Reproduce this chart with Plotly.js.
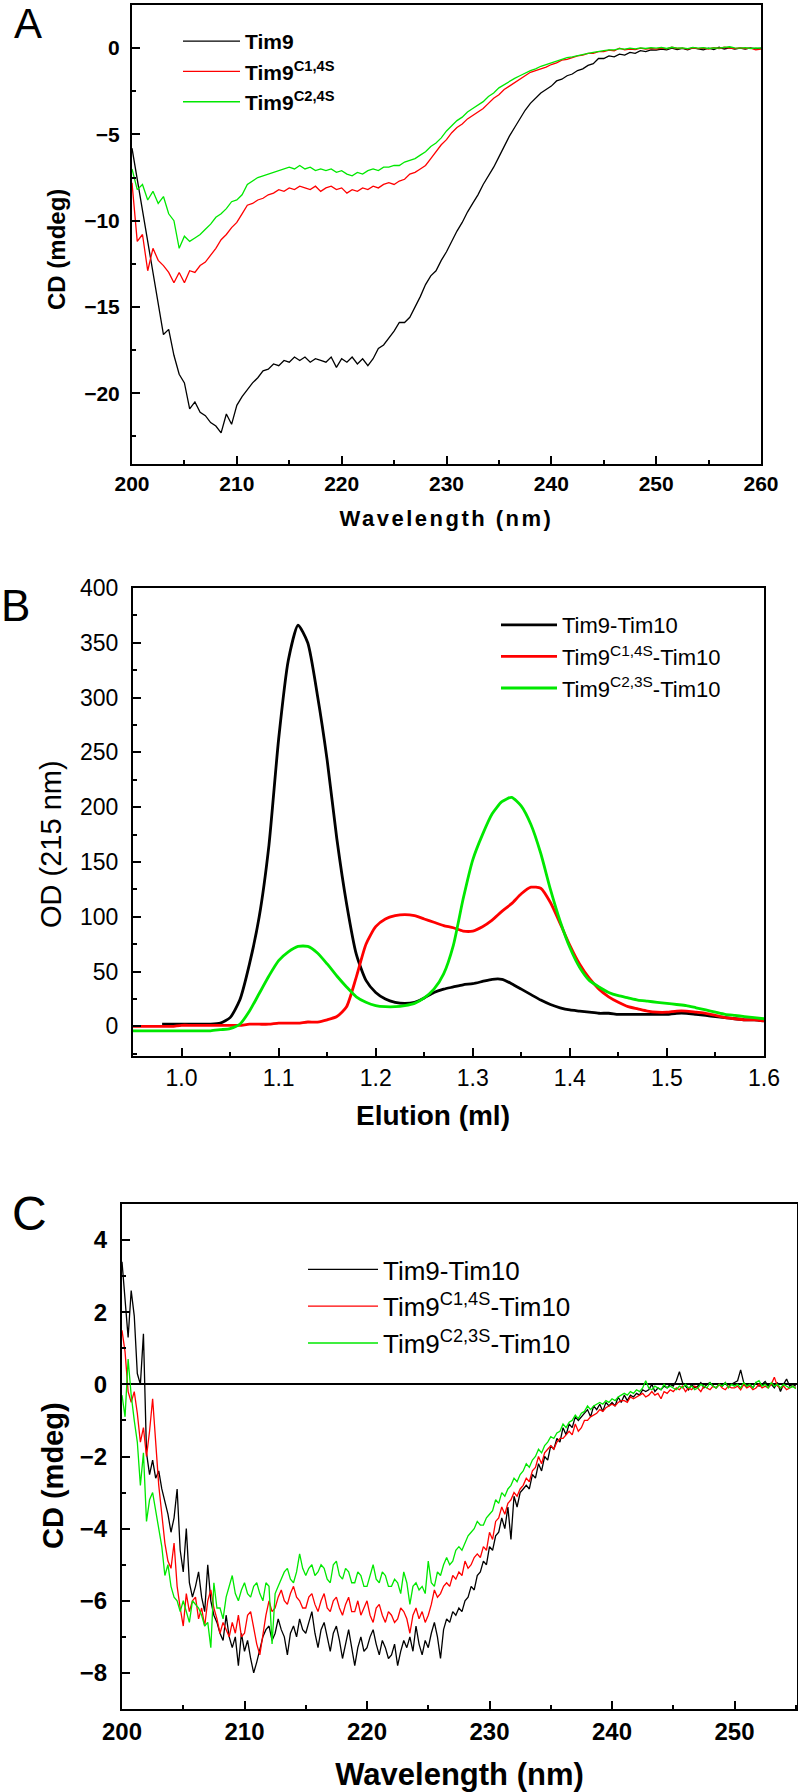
<!DOCTYPE html>
<html>
<head>
<meta charset="utf-8">
<script src="https://cdn.plot.ly/plotly-3.0.1.min.js"></script>
<style>
  html, body { margin: 0; padding: 0; background: #ffffff; }
  #chart { width: 798px; height: 1792px; }
</style>
</head>
<body>
<div id="chart"></div>
<script>
// ---------------- Panel A : CD spectra (x from 200 nm, step 0.5 nm) ----------------
const aStart = 200, aStep = 0.5;
const aTim9 = [
  -5.8, -7.6, -9.4, -11.0, -12.9, -14.8, -16.6, -16.3, -17.8, -18.9,
  -19.4, -20.9, -20.5, -21.1, -21.3, -21.7, -21.9, -22.3, -21.2, -21.8,
  -20.7, -20.2, -19.8, -19.4, -19.1, -18.7, -18.6, -18.3, -18.4, -18.1,
  -18.2, -17.9, -18.1, -17.9, -18.2, -18.0, -18.1, -18.2, -17.9, -18.5,
  -18.0, -18.2, -17.9, -18.3, -18.0, -18.4, -18.0, -17.4, -17.2, -16.8,
  -16.4, -15.9, -15.9, -15.6, -15.0, -14.4, -13.7, -13.2, -12.9, -12.3,
  -11.8, -11.2, -10.6, -10.1, -9.5, -9.0, -8.5, -7.9, -7.4, -6.9,
  -6.3, -5.7, -5.1, -4.6, -4.1, -3.6, -3.2, -2.9, -2.6, -2.4,
  -2.2, -1.9, -1.8, -1.6, -1.5, -1.3, -1.2, -1.0, -0.9, -0.6,
  -0.6, -0.45, -0.5, -0.35, -0.4, -0.25, -0.3, -0.15, -0.2, -0.1,
  -0.12, -0.05, -0.1, 0.0, -0.08, -0.02, -0.1, 0.02, -0.05, -0.1,
  0.0, -0.08, 0.05, -0.05, 0.02, -0.06, 0.0, -0.05, 0.02, -0.04,
  0.0
];
const aC14S = [
  -7.8, -11.2, -10.8, -12.9, -11.6, -12.3, -12.6, -13.0, -13.6, -13.0,
  -13.6, -12.9, -13.0, -12.6, -12.4, -12.0, -11.6, -11.1, -10.8, -10.4,
  -10.1, -9.6, -9.1, -9.0, -8.8, -8.7, -8.5, -8.4, -8.2, -8.3,
  -8.1, -8.2, -8.0, -8.1, -8.2, -8.0, -8.3, -8.1, -8.0, -8.2,
  -8.1, -8.4, -8.2, -8.3, -8.1, -8.2, -8.0, -8.1, -7.9, -7.8,
  -7.9, -7.7, -7.6, -7.3, -7.2, -7.0, -6.8, -6.4, -6.0, -5.6,
  -5.3, -4.9, -4.6, -4.4, -4.1, -3.9, -3.7, -3.5, -3.2, -2.9,
  -2.7, -2.4, -2.2, -2.0, -1.8, -1.6, -1.4, -1.3, -1.2, -1.1,
  -0.95, -0.85, -0.7, -0.65, -0.55, -0.45, -0.4, -0.3, -0.3, -0.2,
  -0.2, -0.12, -0.15, 0.0, -0.1, -0.05, -0.08, 0.0, -0.05, -0.02,
  -0.06, 0.0, -0.04, 0.05, -0.02, 0.0, -0.06, 0.02, -0.03, 0.0,
  -0.05, 0.03, -0.02, 0.05, 0.0, -0.03, 0.02, -0.02, 0.0, -0.1,
  -0.05
];
const aC24S = [
  -7.0, -8.2, -7.9, -8.8, -8.3, -9.0, -8.6, -9.6, -10.0, -11.6,
  -10.9, -11.2, -11.0, -10.8, -10.5, -10.2, -9.8, -9.6, -9.3, -8.9,
  -8.8, -8.5, -7.9, -7.7, -7.5, -7.4, -7.3, -7.2, -7.1, -7.0,
  -6.9, -7.0, -6.8, -7.0, -6.9, -7.1, -7.0, -7.1, -7.0, -7.2,
  -7.1, -7.3, -7.4, -7.2, -7.3, -7.1, -7.0, -7.1, -6.9, -6.9,
  -6.8, -6.8, -6.6, -6.5, -6.4, -6.2, -6.0, -5.7, -5.5, -5.2,
  -4.8, -4.5, -4.2, -4.0, -3.7, -3.5, -3.3, -3.1, -2.8, -2.6,
  -2.3, -2.1, -1.9, -1.75, -1.6, -1.45, -1.3, -1.2, -1.05, -0.95,
  -0.85, -0.75, -0.65, -0.55, -0.5, -0.42, -0.35, -0.3, -0.25, -0.18,
  -0.15, -0.1, -0.1, -0.03, -0.06, 0.0, -0.04, 0.02, -0.02, 0.03,
  0.0, 0.04, -0.02, 0.05, 0.0, 0.02, -0.03, 0.04, 0.0, 0.03,
  -0.02, 0.02, 0.0, 0.05, 0.08, 0.02, 0.0, 0.03, -0.02, 0.02,
  0.0
];
const aNames = ['Tim9', 'Tim9<sup>C1,4S</sup>', 'Tim9<sup>C2,4S</sup>'];

// ---------------- Panel B : elution profiles (x from 0.95 ml, step 0.01 ml) ----------------
const bStart = 0.95, bStep = 0.01;
const bWT = [
  null, null, null, 2, 2, 2, 2, 2, 2, 3,
  8, 24, 57, 100, 165, 262, 334, 366, 350, 302,
  243, 171, 112, 66, 42, 31, 25, 22, 21, 22,
  26, 31, 34, 36, 38, 39, 41, 43, 43, 39,
  34, 29, 24, 20, 17, 15, 14, 13, 12, 12,
  11, 11, 11, 11, 11, 11, 12, 12, 11, 10,
  9, 8, 7, 6, 6, 5
];
const bC14S = [
  0, 0, 0, 0, 0, 1, 1, 1, 1, 1,
  1, 1, 2, 2, 2, 3, 3, 3, 4, 4,
  6, 9, 18, 45, 75, 91, 98, 101, 102, 101,
  98, 95, 92, 90, 87, 87, 91, 97, 105, 112,
  121, 127, 126, 113, 94, 74, 57, 44, 34, 27,
  22, 18, 16, 14, 13, 13, 14, 14, 13, 12,
  10, 8, 7, 6, 6, 5
];
const bC23S = [
  -4, -4, -4, -4, -4, -4, -4, -4, -4, -3,
  -2, 2, 14, 30, 46, 60, 68, 73, 73, 67,
  57, 46, 36, 27, 22, 19, 18, 18, 19, 21,
  26, 34, 48, 74, 116, 152, 175, 194, 205, 209,
  201, 184, 158, 125, 96, 72, 54, 42, 36, 31,
  28, 26, 24, 23, 22, 21, 20, 19, 17, 15,
  13, 11, 10, 9, 8, 7
];
const bNames = ['Tim9-Tim10', 'Tim9<sup>C1,4S</sup>-Tim10', 'Tim9<sup>C2,3S</sup>-Tim10'];

// ---------------- Panel C : CD spectra of complexes (x from 200 nm, step 0.25 nm) ----------------
const cStart = 200, cStep = 0.25;
const cWT = [
  3.4, 2.4, 1.3, 2.6, 1.9, 0.3, 0.0, 1.4, -1.9, -2.5, -2.1, -2.6, -2.4, -2.9, -3.3, -3.6, -4.1, -3.7, -2.9, -4.6,
  -5.2, -4.0, -5.5, -5.9, -5.6, -5.2, -5.9, -6.3, -5.0, -6.0, -6.4, -6.6, -6.9, -7.1, -6.4, -7.0, -7.3, -7.0, -7.8, -6.9,
  -7.4, -7.1, -7.6, -8.0, -7.7, -7.3, -7.0, -6.8, -6.7, -7.1, -6.9, -6.5, -6.8, -7.0, -7.5, -6.9, -6.7, -7.0, -6.5, -6.8,
  -6.9, -6.6, -6.3, -6.9, -7.3, -6.8, -6.6, -7.0, -7.4, -6.9, -6.7, -7.1, -7.6, -7.2, -6.8, -7.3, -7.8, -7.3, -7.0, -7.4,
  -7.3, -7.0, -6.8, -7.2, -7.5, -7.1, -7.3, -7.6, -7.5, -7.2, -7.8, -7.4, -7.1, -7.3, -7.0, -7.4, -6.7, -7.2, -7.5, -7.1,
  -7.3, -6.9, -6.6, -7.0, -7.6, -6.8, -6.5, -6.6, -6.3, -6.4, -6.2, -6.3, -6.0, -5.9, -5.6, -5.7, -5.3, -5.2, -4.9, -5.0,
  -4.5, -4.6, -4.2, -4.1, -3.7, -4.0, -3.4, -4.3, -3.1, -3.4, -3.0, -2.9, -2.8, -2.9, -2.5, -2.6, -2.2, -2.4, -2.0, -2.1,
  -1.7, -1.8, -1.5, -1.6, -1.2, -1.4, -1.1, -1.2, -0.9, -1.0, -0.9, -0.8, -0.7, -0.9, -0.6, -0.7, -0.55, -0.75, -0.5, -0.6,
  -0.5, -0.6, -0.35, -0.5, -0.3, -0.45, -0.3, -0.35, -0.25, -0.3, -0.15, -0.2, -0.15, 0.0, -0.2, -0.1, -0.15, -0.05, -0.1, 0.0,
  -0.05, 0.1, 0.35, 0.05, -0.05, -0.15, 0.0, -0.1, -0.05, 0.05, -0.1, 0.0, 0.05, -0.05, -0.1, 0.0, -0.05, 0.05, -0.08, 0.0,
  0.05, 0.1, 0.4, 0.05, -0.05, 0.0, -0.1, 0.05, -0.05, 0.0, 0.08, -0.05, 0.0, -0.1, 0.05, -0.2, 0.0, 0.15, -0.05, 0.0, -0.05
];
const cC14S = [
  1.5, 0.9, -0.2, -0.5, -0.2, -0.8, -1.6, -1.2, -2.0, -1.3, -0.4, -1.6, -2.8, -3.6, -4.4, -4.9, -5.1, -4.4, -5.6, -6.2,
  -6.7, -5.8, -6.3, -6.0, -5.9, -6.5, -6.2, -6.7, -6.0, -5.7, -6.2, -6.5, -6.9, -6.6, -6.8, -7.0, -6.6, -6.9, -6.4, -7.0,
  -6.9, -6.4, -6.3, -6.8, -7.2, -7.5, -6.9, -6.4, -6.0, -6.3, -6.2, -5.9, -5.7, -6.0, -6.1, -5.8, -5.6, -5.9, -6.0, -6.2,
  -6.2, -5.9, -5.8, -6.1, -6.3, -6.0, -5.8, -6.2, -6.3, -6.0, -5.9, -6.2, -6.4, -6.1, -5.9, -6.3, -6.3, -6.0, -6.4, -6.2,
  -6.0, -6.4, -6.6, -6.2, -6.1, -6.4, -6.6, -6.3, -6.4, -6.6, -6.5, -6.2, -6.3, -6.5, -6.9, -6.4, -6.2, -6.5, -6.3, -6.6,
  -6.4, -6.1, -5.7, -5.9, -5.8, -5.6, -5.5, -5.6, -5.3, -5.4, -5.2, -5.3, -4.9, -5.1, -5.0, -4.8, -4.7, -4.8, -4.5, -4.6,
  -4.1, -4.3, -3.8, -3.7, -3.4, -3.6, -3.3, -3.2, -3.0, -3.1, -2.9, -2.8, -2.6, -2.7, -2.4, -2.3, -2.0, -2.2, -1.9, -1.8,
  -1.7, -1.8, -1.6, -1.5, -1.5, -1.4, -1.3, -1.4, -1.1, -1.3, -1.2, -1.0, -1.0, -0.9, -0.85, -0.8, -0.7, -0.75, -0.65, -0.6,
  -0.55, -0.6, -0.5, -0.45, -0.45, -0.5, -0.35, -0.4, -0.35, -0.3, -0.25, -0.35, -0.3, -0.2, -0.3, -0.25, -0.4, -0.2, -0.25, -0.15,
  -0.2, -0.1, -0.15, -0.05, -0.2, -0.1, -0.15, -0.05, -0.1, -0.2, -0.05, -0.1, -0.15, -0.05, -0.1, 0.0, -0.1, -0.15, -0.05, -0.1,
  -0.1, -0.05, -0.15, 0.0, -0.1, -0.05, -0.15, -0.1, 0.0, -0.1, -0.05, -0.1, 0.0, 0.2, -0.05, -0.1, -0.05, -0.15, -0.1, -0.05, -0.1
];
const cC23S = [
  -0.3, -0.9, 0.7, -0.3, -1.0, -1.6, -2.8, -1.9, -3.8, -3.2, -3.0, -3.5, -4.1, -4.5, -5.3, -5.0, -5.6, -5.9, -6.0, -6.3,
  -6.0, -6.3, -6.6, -6.0, -6.1, -6.2, -6.4, -6.7, -6.6, -7.3, -5.5, -6.2, -6.2, -6.5, -5.9, -5.6, -5.3, -5.8, -6.0, -5.7,
  -5.5, -5.8, -5.9, -5.6, -5.5, -5.8, -6.0, -5.5, -5.6, -7.2, -5.8, -5.6, -5.4, -5.2, -5.1, -5.4, -5.5, -5.2, -4.7, -5.1,
  -5.3, -5.1, -5.0, -5.3, -5.2, -5.0, -5.1, -5.4, -5.5, -5.0, -4.9, -5.3, -5.4, -5.1, -5.2, -5.5, -5.5, -5.2, -5.3, -5.6,
  -5.6, -5.3, -5.0, -5.4, -5.5, -5.2, -5.3, -5.6, -5.6, -5.4, -5.5, -5.8, -5.2, -5.5, -6.1, -5.6, -5.5, -5.7, -5.6, -5.8,
  -4.9, -5.5, -5.6, -5.2, -5.3, -5.0, -4.8, -5.0, -4.9, -4.6, -4.5, -4.6, -4.4, -4.2, -4.1, -4.0, -3.8, -3.9, -3.9, -3.7,
  -3.6, -3.5, -3.2, -3.3, -3.0, -3.1, -2.9, -2.8, -2.6, -2.7, -2.5, -2.4, -2.2, -2.3, -2.1, -2.0, -1.8, -1.9, -1.7, -1.6,
  -1.45, -1.5, -1.35, -1.3, -1.1, -1.2, -1.05, -1.0, -0.85, -0.95, -0.8, -0.75, -0.6, -0.7, -0.6, -0.55, -0.5, -0.55, -0.45, -0.5,
  -0.4, -0.45, -0.35, -0.3, -0.25, -0.3, -0.2, -0.25, -0.15, -0.2, -0.1, 0.1, -0.1, -0.15, -0.05, -0.1, -0.15, 0.0, -0.1, -0.05,
  -0.1, -0.15, -0.05, -0.1, 0.0, -0.1, -0.05, -0.15, -0.1, 0.0, -0.05, -0.1, 0.05, -0.05, -0.1, 0.0, -0.05, 0.05, -0.1, 0.0,
  -0.05, 0.0, -0.1, 0.05, -0.05, 0.0, -0.1, 0.05, 0.1, -0.05, 0.0, -0.1, 0.05, -0.05, 0.0, -0.1, 0.0, -0.05, -0.1, -0.05, -0.12
];
const cNames = ['Tim9-Tim10', 'Tim9<sup>C1,4S</sup>-Tim10', 'Tim9<sup>C2,3S</sup>-Tim10'];

const seriesColors = ['#000000', '#ff0000', '#00e800'];

// ---------------- traces ----------------
const FONT = 'Liberation Sans, Arial, Helvetica, sans-serif';
const traces = [];
[aTim9, aC14S, aC24S].forEach((ys, i) => traces.push({
  type: 'scatter', mode: 'lines', x0: aStart, dx: aStep, y: ys, name: aNames[i],
  xaxis: 'x', yaxis: 'y', legend: 'legend',
  line: { color: seriesColors[i], width: 1.3 }
}));
[bWT, bC14S, bC23S].forEach((ys, i) => traces.push({
  type: 'scatter', mode: 'lines', x0: bStart, dx: bStep, y: ys, name: bNames[i],
  xaxis: 'x2', yaxis: 'y2', legend: 'legend2',
  line: { color: seriesColors[i], width: 2.8, shape: 'spline', smoothing: 0.6 }
}));
[cWT, cC14S, cC23S].forEach((ys, i) => traces.push({
  type: 'scatter', mode: 'lines', x0: cStart, dx: cStep, y: ys, name: cNames[i],
  xaxis: 'x3', yaxis: 'y3', legend: 'legend3',
  line: { color: seriesColors[i], width: 1.3 }
}));

function axis(opts) {
  return Object.assign({
    showline: true, linecolor: '#000', linewidth: 2, mirror: true,
    showgrid: false, zeroline: false,
    ticks: 'inside', ticklen: 8, tickwidth: 2, tickcolor: '#000',
    fixedrange: true
  }, opts);
}
const minorTicks = (d) => ({ dtick: d, ticklen: 4, tickwidth: 2, ticks: 'inside', tickcolor: '#000' });
const px = (v) => v / 798;          // horizontal pixel -> paper
const py = (v) => 1 - v / 1792;     // vertical pixel (from top) -> paper

function label(text, x, y, size, opts) {
  return Object.assign({
    text: text, xref: 'paper', yref: 'paper', x: px(x), y: py(y),
    xanchor: 'center', yanchor: 'middle', showarrow: false,
    font: { size: size, family: FONT, color: '#000' }
  }, opts || {});
}

const layout = {
  width: 798, height: 1792,
  margin: { l: 0, r: 0, t: 0, b: 0 },
  paper_bgcolor: '#ffffff', plot_bgcolor: '#ffffff',
  font: { family: FONT, color: '#000' },
  showlegend: true,
  // Panel A
  xaxis: axis({
    domain: [px(132), px(761)], anchor: 'y', range: [200, 260],
    tick0: 200, dtick: 10, minor: minorTicks(5),
    tickfont: { size: 21, family: FONT, weight: 'bold' }, ticklabelstandoff: 0,
    title: { text: '<b>Wavelength (nm)</b>', font: { size: 22, family: FONT }, standoff: 16 }
  }),
  yaxis: axis({
    domain: [py(464), py(5)], anchor: 'x', range: [-24.1, 2.5],
    tick0: 0, dtick: 5, minor: minorTicks(2.5),
    tickfont: { size: 21, family: FONT, weight: 'bold' }, ticklabelstandoff: 6
  }),
  // Panel B
  xaxis2: axis({
    domain: [px(133), px(764)], anchor: 'y2', range: [0.95, 1.6],
    tick0: 1.0, dtick: 0.1, tickformat: '.1f', minor: minorTicks(0.05),
    tickfont: { size: 23, family: FONT }, ticklabelstandoff: 0
  }),
  yaxis2: axis({
    domain: [py(1056), py(588)], anchor: 'x2', range: [-27, 400],
    tick0: 0, dtick: 50, minor: minorTicks(25),
    tickfont: { size: 23, family: FONT }, ticklabelstandoff: 8
  }),
  // Panel C
  xaxis3: axis({
    domain: [px(122), px(797)], anchor: 'y3', range: [200, 255.1],
    tick0: 200, dtick: 10, minor: minorTicks(5),
    tickfont: { size: 24, family: FONT, weight: 'bold' }, ticklabelstandoff: 0,
    title: { text: '<b>Wavelength (nm)</b>', font: { size: 31, family: FONT }, standoff: 21 }
  }),
  yaxis3: axis({
    domain: [py(1709), py(1204)], anchor: 'x3', range: [-9, 5],
    tick0: 0, dtick: 2, minor: minorTicks(1),
    zeroline: true, zerolinecolor: '#000', zerolinewidth: 2,
    tickfont: { size: 24, family: FONT, weight: 'bold' }, ticklabelstandoff: 8
  }),
  legend: {
    x: px(178), y: py(21), xanchor: 'left', yanchor: 'top',
    bgcolor: 'rgba(0,0,0,0)', borderwidth: 0, itemwidth: 57,
    font: { size: 21, family: FONT, weight: 'bold' }, traceorder: 'normal'
  },
  legend2: {
    x: px(496), y: py(604), xanchor: 'left', yanchor: 'top',
    bgcolor: 'rgba(0,0,0,0)', borderwidth: 0, itemwidth: 56,
    font: { size: 22, family: FONT }, traceorder: 'normal'
  },
  legend3: {
    x: px(303), y: py(1246), xanchor: 'left', yanchor: 'top',
    bgcolor: 'rgba(0,0,0,0)', borderwidth: 0, itemwidth: 70,
    font: { size: 26, family: FONT }, traceorder: 'normal'
  },
  annotations: [
    // panel letters
    label('A', 12, 24, 42, { xanchor: 'left' }),
    label('B', -1, 605, 44, { xanchor: 'left' }),
    label('C', 10, 1213, 48, { xanchor: 'left' }),
    // axis titles placed as in the figure
    label('<b>CD (mdeg)</b>', 56, 250, 24, { textangle: -90 }),
    label('OD (215 nm)', 51, 844, 29, { textangle: -90 }),
    label('<b>Elution (ml)</b>', 433, 1115, 28),
    label('<b>CD (mdeg)</b>', 53, 1476, 29, { textangle: -90 })
  ]
};

Plotly.newPlot('chart', traces, layout, { staticPlot: true, displayModeBar: false }).then(() => {
  const xt = document.querySelector('.g-xtitle text');
  if (xt) xt.style.letterSpacing = '2.5px';
});
</script>
</body>
</html>
